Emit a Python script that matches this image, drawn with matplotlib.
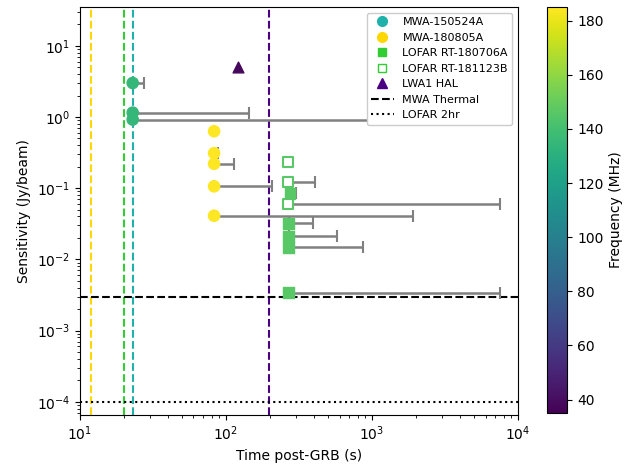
import numpy as np
import matplotlib
matplotlib.use("Agg")
import matplotlib.pyplot as plt
from matplotlib.lines import Line2D

# frequency colour scale
fmin, fmax = 35, 185

# MWA-150524A
mwa1_t = [23, 23, 23]
mwa1_s = [3.0, 1.15, 0.92]
mwa1_tmax = [27.5, 145, 6000]
mwa1_freq = 135

# MWA-180805A
mwa2_t = [83, 83, 83, 83, 83]
mwa2_s = [0.63, 0.31, 0.22, 0.106, 0.041]
mwa2_tmax = [83, 89, 113, 206, 1900]
mwa2_freq = 185

# LOFAR RT-180706A
lof1_t = [275, 270, 270, 270, 270]
lof1_s = [0.085, 0.032, 0.021, 0.0148, 0.0034]
lof1_tmax = [300, 394, 576, 867, 7500]
lof1_freq = 146

# LOFAR RT-181123B
lof2_t = [266, 266, 266]
lof2_s = [0.23, 0.124, 0.059]
lof2_tmax = [266, 407, 7500]
lof2_freq = 146

# LWA1 HAL
lwa_t = [121]
lwa_s = [5.1]
lwa_freq = 38

# vertical lines (start times) and horizontal limits
vlines = [12, 20, 23, 197]
vline_colors = ['gold', 'limegreen', 'lightseagreen', 'indigo']
mwa_thermal = 3e-3
lofar_2hr = 1e-4

cmap = plt.get_cmap('viridis')
norm = matplotlib.colors.Normalize(vmin=fmin, vmax=fmax)

fig = plt.figure(figsize=(6.24, 4.69), dpi=100)
ax = fig.add_axes([0.128, 0.115, 0.702, 0.870])
cax = fig.add_axes([0.877, 0.119, 0.032, 0.866])


def draw(t, s, tmax, freq, marker, hollow=False, size=60):
    t = np.array(t)
    s = np.array(s)
    err = np.array(tmax) - t
    ax.errorbar(t, s, xerr=[np.zeros_like(err), err], fmt='none', ecolor='grey',
                elinewidth=1.8, capsize=4, capthick=1.5, zorder=2)
    c = cmap(norm(freq))
    if hollow:
        ax.scatter(t, s, s=size, marker=marker, facecolors='white', edgecolors=[c],
                   linewidths=1.5, zorder=3)
    else:
        ax.scatter(t, s, s=size, marker=marker, c=[freq] * len(t), cmap=cmap,
                   norm=norm, zorder=3)


for x, col in zip(vlines, vline_colors):
    ax.axvline(x, color=col, linestyle='--', linewidth=1.5, zorder=1)

draw(mwa1_t, mwa1_s, mwa1_tmax, mwa1_freq, 'o', size=65)
draw(mwa2_t, mwa2_s, mwa2_tmax, mwa2_freq, 'o', size=65)
draw(lof1_t, lof1_s, lof1_tmax, lof1_freq, 's', size=60)
draw(lof2_t, lof2_s, lof2_tmax, lof2_freq, 's', hollow=True, size=50)
ax.scatter(lwa_t, lwa_s, s=60, marker='^', c=[lwa_freq], cmap=cmap, norm=norm, zorder=3)

ax.axhline(mwa_thermal, color='black', linestyle='--', linewidth=1.5, zorder=1)
ax.axhline(lofar_2hr, color='black', linestyle=':', linewidth=1.5, zorder=1)

ax.set_xscale('log')
ax.set_yscale('log')
ax.set_xlim(10, 1e4)
ax.set_ylim(6.5e-5, 35)
ax.set_xlabel('Time post-GRB (s)')
ax.set_ylabel('Sensitivity (Jy/beam)')

handles = [
    Line2D([], [], marker='o', color='lightseagreen', linestyle='none', markersize=7),
    Line2D([], [], marker='o', color='gold', linestyle='none', markersize=7),
    Line2D([], [], marker='s', color='limegreen', linestyle='none', markersize=6),
    Line2D([], [], marker='s', markerfacecolor='white', markeredgecolor='limegreen',
           linestyle='none', markersize=6),
    Line2D([], [], marker='^', color='indigo', linestyle='none', markersize=7),
    Line2D([], [], color='black', linestyle='--', linewidth=1.5),
    Line2D([], [], color='black', linestyle=':', linewidth=1.5),
]
labels = ['MWA-150524A', 'MWA-180805A', 'LOFAR RT-180706A', 'LOFAR RT-181123B',
          'LWA1 HAL', 'MWA Thermal', 'LOFAR 2hr']
leg = ax.legend(handles, labels, loc='upper right', fontsize=8, framealpha=1)
leg.set_zorder(5)

sm = matplotlib.cm.ScalarMappable(norm=norm, cmap=cmap)
cb = fig.colorbar(sm, cax=cax)
cb.set_label('Frequency (MHz)')
cb.set_ticks(np.arange(40, 181, 20))

fig.savefig('out.png', dpi=100)
